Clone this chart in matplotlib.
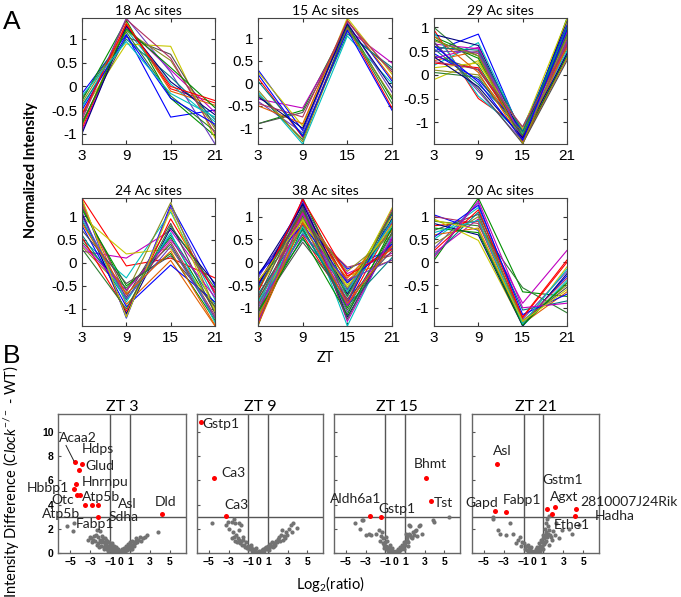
import numpy as np
import matplotlib.pyplot as plt

plt.rcParams['font.family'] = ['Lato', 'DejaVu Sans']
plt.rcParams['mathtext.fontset'] = 'custom'
plt.rcParams['mathtext.rm'] = 'Lato'
plt.rcParams['mathtext.it'] = 'Lato:italic'

# ---- panel A: clusters of acetylation sites, values at ZT 3, 9, 15, 21
zt = [3, 9, 15, 21]

c18 = [[-0.15, 1.10, -0.65, -0.50], [-0.30, 1.40, -0.25, -1.05], [-0.90, 1.30, -0.05, -0.35],
       [-0.45, 1.20, 0.05, -0.75], [-0.95, 1.25, 0.35, -0.55], [-0.55, 0.90, 0.85, -1.10],
       [-0.75, 1.05, 0.68, -0.85], [-0.65, 1.45, 0.30, -1.22], [-0.25, 1.15, -0.20, -0.95],
       [-0.85, 1.35, -0.10, -0.40], [-0.40, 1.00, 0.20, -0.70], [-1.00, 1.28, 0.10, -0.60],
       [-0.35, 1.18, 0.55, -0.90], [-0.70, 1.42, 0.60, -1.00], [-0.50, 1.08, -0.25, -0.80],
       [-0.80, 1.22, 0.40, -0.45], [-0.60, 1.32, 0.00, -0.30], [-0.20, 0.95, -0.15, -0.65]]

c15 = [[0.30, -1.05, 1.40, 0.05], [-0.90, -0.60, 1.30, -0.35], [0.12, -1.20, 1.25, -0.55],
       [-0.20, -1.35, 1.05, 0.00], [-0.35, -0.55, 1.20, 0.45], [0.25, -0.95, 1.45, 0.20],
       [-0.90, -0.65, 1.15, 0.30], [-0.40, -1.10, 1.35, -0.20], [-0.25, -1.25, 1.28, -0.45],
       [-0.50, -0.90, 1.40, 0.10], [0.05, -1.15, 1.10, 0.35], [-0.30, -1.00, 1.32, -0.10],
       [-0.15, -1.30, 1.22, -0.30], [-0.45, -0.75, 1.38, 0.25], [0.20, -1.18, 1.18, -0.60]]

c29 = [[0.50, 0.86, -1.30, 0.90], [0.80, 0.40, -1.38, 1.20], [0.95, -0.50, -1.15, 0.70],
       [0.20, 0.68, -1.25, 1.00], [0.65, 0.55, -1.45, 0.45], [-0.10, 0.30, -1.35, 1.10],
       [0.40, 0.10, -1.20, 0.80], [0.70, -0.35, -1.40, 0.60], [1.00, 0.20, -1.28, 0.95],
       [0.30, 0.50, -1.42, 0.35], [0.55, -0.20, -1.10, 0.85], [0.85, 0.62, -1.33, 1.15],
       [0.10, 0.00, -1.22, 0.55], [0.60, 0.45, -1.45, 0.75], [0.45, -0.10, -1.18, 1.05],
       [0.75, 0.35, -1.38, 0.40], [0.25, 0.15, -1.30, 0.65], [0.90, -0.45, -1.25, 0.50],
       [0.35, 0.58, -1.40, 0.90], [0.15, 0.25, -1.15, 1.18], [0.68, -0.30, -1.45, 0.30],
       [0.50, 0.48, -1.35, 0.70], [0.05, -0.05, -1.28, 0.85], [0.82, 0.05, -1.42, 0.60],
       [0.58, 0.52, -1.20, 1.00], [0.38, -0.25, -1.33, 0.45], [0.72, 0.40, -1.46, 0.80],
       [0.28, 0.12, -1.10, 0.62], [0.62, -0.15, -1.38, 0.95]]

c24 = [[1.35, -1.20, 1.25, -0.50], [1.20, -0.60, 0.55, -1.05], [1.40, -0.07, 0.10, -0.33],
       [0.50, -0.33, 1.10, -0.80], [0.25, 0.10, 0.70, -0.60], [1.00, 0.19, 0.30, -0.95],
       [0.90, -0.75, 0.85, -1.10], [1.10, -1.15, 1.20, -0.70], [0.45, -0.55, 0.40, -1.20],
       [1.30, -0.90, 0.05, -1.37], [0.60, -0.80, 0.60, -0.90], [1.05, -1.10, 0.75, -0.45],
       [0.35, -0.65, 1.30, -1.00], [1.25, -0.70, 0.45, -1.15], [0.80, -0.95, -0.05, -0.85],
       [1.15, -0.50, 0.20, -1.25], [0.55, -1.05, 0.95, -0.65], [0.95, -0.85, 0.65, -1.30],
       [0.40, -0.60, 0.50, -0.75], [1.38, -1.18, 1.15, -1.05], [0.70, -0.45, 0.15, -0.95],
       [1.00, -0.78, 0.35, -1.20], [0.30, -1.00, 0.80, -0.55], [0.85, -0.68, 0.25, -1.35]]

c38 = [[-0.26, 0.95, -0.15, 0.30], [-1.40, 1.41, -0.60, 1.10], [-0.80, 0.60, -0.95, 0.85],
       [-1.20, 1.20, -1.40, 0.60], [-0.50, 1.05, -0.25, 0.20], [-1.00, 0.80, -0.70, 1.19],
       [-0.65, 1.30, -0.45, 0.70], [-1.35, 0.90, -1.10, 0.40], [-0.40, 0.70, -0.85, 0.95],
       [-1.10, 1.15, -0.30, 0.04], [-0.90, 0.50, -0.55, 0.75], [-0.30, 1.25, -1.20, 0.50],
       [-1.25, 1.00, -0.65, 0.90], [-0.75, 0.85, -0.11, 0.15], [-0.55, 1.35, -0.90, 1.05],
       [-1.30, 0.75, -1.00, 0.65], [-0.45, 1.10, -0.40, 0.35], [-0.95, 0.65, -0.75, 0.80],
       [-1.15, 1.40, -1.30, 0.55], [-0.60, 0.95, -0.50, 1.00], [-1.05, 0.44, -0.80, 0.25],
       [-0.35, 1.18, -0.60, 0.88], [-0.85, 1.02, -1.05, 0.45], [-1.38, 0.88, -0.35, 0.70],
       [-0.70, 0.72, -0.95, 0.10], [-0.50, 1.28, -0.70, 0.95], [-1.20, 0.98, -0.20, 0.60],
       [-0.95, 1.12, -0.85, 1.15], [-0.28, 0.82, -0.45, 0.40], [-1.10, 0.55, -1.15, 0.75],
       [-0.65, 1.38, -0.30, 0.28], [-0.88, 0.78, -0.65, 0.92], [-1.32, 1.08, -0.95, 0.50],
       [-0.42, 0.92, -0.55, 0.82], [-0.78, 1.22, -1.25, 0.65], [-1.00, 0.62, -0.40, 0.05],
       [-0.58, 1.15, -0.75, 1.08], [-1.25, 0.85, -0.90, 0.35]]

c20 = [[1.04, 0.70, -1.35, -0.30], [0.04, 1.41, -0.65, -0.75], [0.80, 0.90, -1.20, 0.05],
       [0.50, 1.20, -1.40, -0.40], [0.20, 0.95, -0.90, 0.26], [0.95, 0.48, -1.38, -0.10],
       [0.70, 1.05, -1.30, -0.55], [0.30, 1.30, -1.25, -0.20], [0.90, 0.80, -0.56, -1.11],
       [0.60, 0.75, -1.35, -0.65], [0.15, 1.10, -1.05, -0.85], [0.85, 0.60, -1.40, -0.25],
       [0.40, 1.00, -1.28, -0.50], [1.00, 0.85, -1.32, -0.35], [0.55, 1.25, -1.15, -0.70],
       [0.75, 0.65, -1.38, -0.45], [0.25, 1.15, -1.22, 0.00], [0.65, 0.92, -1.35, -0.15],
       [0.10, 1.35, -1.00, -0.90], [0.92, 0.72, -1.30, -0.60]]

clusters = [c18, c15, c29, c24, c38, c20]

# ---- panel B: volcano plots (red = significant, grey = rest)
zt_titles = ['ZT 3', 'ZT 9', 'ZT 15', 'ZT 21']

red3_x = [-4.5, -3.8, -4.1, -4.4, -4.6, -4.3, -4.0, -3.5, -2.8, -2.2, -2.2, 4.2]
red3_y = [7.5, 7.4, 6.9, 5.7, 5.3, 4.8, 4.8, 4.0, 4.0, 4.0, 3.0, 3.2]
red9_x = [-5.8, -4.5, -3.3]
red9_y = [10.85, 6.2, 3.1]
red15_x = [3.1, 3.7, -2.5, -1.4]
red15_y = [6.2, 4.3, 3.1, 3.0]
red21_x = [-3.7, -3.9, -2.8, 1.4, 2.2, 1.9, 4.3, 4.2]
red21_y = [7.35, 3.5, 3.4, 3.65, 3.8, 3.2, 3.6, 3.1]

grey3_x = [-5.3, -4.6, -4.7, -3.2, -2.3, -2.0, -2.6, -2.9, -2.5, -2.2, -2.0, -1.8, -1.7, -1.5,
           -1.4, -1.3, -1.2, -1.1, -1.0, -0.9, -0.8, -0.7, -0.6, -0.5, -0.4, -0.3, -0.2, -0.1,
           0.0, 0.1, 0.2, 0.3, 0.4, 0.5, 0.6, 0.7, 0.8, 0.9, 1.0, 1.1, 1.2, 1.4, 1.6, 1.8, 2.0,
           2.3, 2.7, 3.8, 1.2, -2.3, -1.9, -1.6, -1.3, -1.0, -0.7, 0.5, 0.8, 1.0, -2.8, -3.0,
           -1.9, -1.7, -1.5, -1.3, -1.1, -0.9, -0.7, -0.5, -0.3, -0.1, 0.1, 0.3, 0.5, 0.7, 0.9,
           1.1, 1.3, 1.5, -1.6, -1.2, -0.8, -0.4, 0.0, 0.4, 0.8, 1.2, -2.4, -2.1, -1.4, -0.6,
           0.2, 0.6, 1.4, 1.7, 2.1, 2.5, -2.7, -2.2, -1.8, -1.4, -1.0, 0.65, 1.05, 1.55]
grey3_y = [2.2, 2.5, 1.8, 1.1, 1.9, 1.8, 1.4, 1.2, 1.0, 1.3, 1.1, 1.4, 0.9, 1.2,
           0.8, 1.0, 0.6, 0.9, 0.7, 0.5, 0.8, 0.4, 0.6, 0.3, 0.5, 0.2, 0.35, 0.1,
           0.05, 0.15, 0.3, 0.2, 0.45, 0.35, 0.6, 0.5, 0.75, 0.6, 0.9, 0.7, 1.0, 0.9, 1.2, 1.1, 1.35,
           1.2, 1.5, 1.7, 0.66, 0.7, 0.6, 0.5, 0.35, 0.25, 0.15, 0.15, 0.3, 0.45, 0.9, 1.3,
           0.9, 1.2, 0.7, 0.9, 0.5, 0.35, 0.55, 0.2, 0.3, 0.05, 0.08, 0.12, 0.2, 0.3, 0.45,
           0.5, 0.7, 0.8, 0.3, 0.2, 0.2, 0.1, 0.15, 0.1, 0.5, 0.3, 1.5, 0.5, 0.55, 0.45,
           0.05, 0.4, 0.6, 0.9, 1.0, 1.3, 1.1, 0.8, 1.0, 1.1, 0.45, 0.25, 0.35, 1.0]

grey9_x = [-4.7, -3.3, -3.1, -2.4, -2.3, -1.9, -2.6, -1.75, -1.9, -2.9, -2.5, -2.2, -2.6, -2.0,
           -1.7, -1.5, -1.4, -1.2, -1.0, -0.8, -0.7, -0.5, -0.3, -0.2, 0.0, 0.1, 0.3, 0.5, 0.7,
           0.8, 1.0, 1.2, 1.4, 1.6, 1.8, 2.0, 2.3, 2.1, 2.6, 2.8, 3.1, 3.45, 3.3, 3.6, 2.4, 3.95,
           1.1, -1.8, -2.3, 0.6, -0.6, 1.5, 2.5, -2.1, -1.9, -1.6, -1.3, -1.1, -0.9, -0.4, -0.1,
           0.2, 0.4, 0.9, 1.3, 1.7, 1.9, 2.2, 2.7, -2.4, -1.5, -0.7, 0.5, 1.1, 1.6, 2.9]
grey9_y = [2.45, 2.3, 2.6, 2.8, 2.5, 2.45, 2.6, 2.3, 1.9, 2.0, 1.7, 1.5, 1.2, 1.2,
           1.0, 1.3, 0.66, 0.9, 0.6, 0.45, 0.7, 0.3, 0.15, 0.4, 0.05, 0.2, 0.1, 0.3, 0.45,
           0.5, 0.6, 0.75, 0.9, 0.8, 1.0, 1.15, 1.5, 1.3, 1.4, 1.7, 1.95, 1.76, 2.3, 2.45, 1.9, 2.1,
           0.4, 0.8, 1.0, 0.15, 0.15, 0.5, 1.1, 0.9, 1.1, 0.7, 0.5, 0.4, 0.3, 0.2, 0.1,
           0.08, 0.25, 0.35, 0.55, 0.65, 0.9, 1.0, 1.25, 1.3, 1.05, 0.5, 0.2, 0.25, 0.55, 1.5]

grey15_x = [-4.1, -3.3, -3.4, -3.6, -2.6, -2.4, -2.9, -1.9, -1.6, -1.3, -1.2, -1.0, -0.9, -0.8,
            -0.6, -0.5, -0.4, -0.3, -0.2, 0.0, 0.1, 0.2, 0.3, 0.4, 0.5, 0.6, 0.7, 0.8, 0.9, 1.0,
            1.1, 1.2, 1.3, 1.4, 1.5, 1.55, 1.6, 1.8, 2.0, 2.1, 2.4, 2.5, 2.7, 2.2, 3.9, 4.0, 5.5,
            -0.7, -1.1, 0.9, -1.5, -1.4, -1.2, -1.0, -0.8, -0.6, -0.4, -0.2, 0.1, 0.3, 0.5,
            0.7, 1.0, 1.2, 1.4, 1.7, 1.9, -1.1, -0.9, 0.6, 1.3]
grey15_y = [2.45, 2.7, 2.7, 2.0, 1.6, 1.5, 1.5, 1.57, 1.9, 1.75, 1.2, 0.9, 0.6, 1.0,
            0.5, 0.7, 0.3, 0.45, 0.15, 0.05, 0.2, 0.1, 0.35, 0.2, 0.5, 0.3, 0.7, 0.5, 0.9, 0.65,
            1.6, 1.1, 0.9, 2.3, 2.2, 1.5, 1.3, 1.7, 1.8, 1.9, 2.2, 2.3, 1.6, 1.4, 2.7, 2.55, 2.95,
            0.2, 0.4, 0.3, 1.0, 1.4, 0.8, 0.55, 0.35, 0.25, 0.1, 0.05, 0.1, 0.15, 0.25,
            0.4, 0.9, 1.3, 1.6, 1.2, 1.5, 0.7, 1.3, 0.45, 0.6]

grey21_x = [-4.1, -4.1, -3.6, -2.4, -3.35, -2.75, -2.1, -1.4, -1.6, -1.2, -1.0, -0.8, -0.6, -0.5,
            -0.4, -0.3, -0.2, 0.0, 0.1, 0.2, 0.3, 0.4, 0.5, 0.6, 0.7, 0.8, 0.9, 1.0, 1.1, 1.2,
            1.25, 1.3, 1.4, 1.5, 1.6, 1.6, 1.9, 2.3, 2.6, 2.9, 3.6, 3.9, 4.6, 1.0, 0.7, -0.7,
            1.3, 1.7, 2.0, -0.9, -0.6, -0.35, -0.15, 0.05, 0.25, 0.45, 0.65, 0.85, 1.05, 1.15,
            1.35, 1.45, 1.55, 1.8, 2.2, -1.8, -1.3, 0.95, 1.2]
grey21_y = [2.95, 2.8, 1.9, 2.45, 1.6, 1.5, 1.6, 1.35, 1.1, 0.9, 0.8, 0.55, 0.7, 0.4,
            0.25, 0.5, 0.15, 0.05, 0.15, 0.3, 0.1, 0.5, 0.3, 0.8, 0.6, 1.1, 0.9, 1.5, 1.2, 2.0,
            2.5, 1.7, 2.8, 2.2, 3.1, 0.66, 1.07, 2.45, 1.2, 1.9, 2.0, 1.6, 2.3, 0.3, 0.2, 0.25,
            1.0, 1.5, 1.8, 0.35, 0.2, 0.1, 0.05, 0.08, 0.12, 0.2, 0.4, 0.55, 0.75, 0.95,
            1.3, 1.6, 1.9, 1.3, 1.5, 0.8, 0.6, 1.2, 1.45]

labels3 = [('Acaa2', -4.2, 9.5), ('Hdps', -2.2, 8.6), ('Glud', -2.0, 7.2), ('Hnrnpu', -1.5, 5.9),
           ('Hbbp1', -7.2, 5.35), ('Otc', -5.7, 4.4), ('Atp5b', -1.9, 4.6), ('Asl', 0.7, 4.05),
           ('Dld', 4.6, 4.2), ('Atp5b', -5.9, 3.2), ('Sdha', 0.4, 3.0), ('Fabp1', -2.5, 2.4)]
labels9 = [('Gstp1', -3.75, 10.7), ('Ca3', -2.5, 6.6), ('Ca3', -2.2, 4.0)]
labels15 = [('Bhmt', 3.6, 7.4), ('Tst', 4.9, 4.15), ('Aldh6a1', -4.0, 4.5), ('Gstp1', 0.2, 3.6)]
labels21 = [('Asl', -3.1, 8.4), ('Gapd', -5.2, 4.1), ('Fabp1', -1.15, 4.4), ('Gstm1', 2.9, 6.0),
            ('Agxt', 3.1, 4.65), ('2810007J24Rik', 9.6, 4.2), ('Hadha', 8.15, 3.05),
            ('Ethe1', 3.85, 2.3)]

cols = ['#0000ff', '#009000', '#ff0000', '#00c0c0', '#c000c0', '#c8c800', '#505050',
        '#6a3dc0', '#2e7d32', '#e06000', '#008080', '#000080', '#8c8c20', '#b03060']

fig = plt.figure(figsize=(6.81, 5.97), dpi=100)


def px_axes(x0, y0, x1, y1):
    return fig.add_axes([x0 / 681, 1 - y1 / 597, (x1 - x0) / 681, (y1 - y0) / 597])


# Fig A: six cluster panels
a_boxes = [(82, 18, 215, 144), (258, 18, 392, 144), (434, 18, 567, 144),
           (82, 198, 215, 326), (258, 198, 392, 326), (434, 198, 567, 326)]
for box, cl in zip(a_boxes, clusters):
    ax = px_axes(*box)
    for i, row in enumerate(cl):
        ax.plot(zt, row, color=cols[i % len(cols)], lw=0.8)
    vals = np.array(cl)
    ax.set_xlim(3, 21)
    ax.set_ylim(vals.min(), vals.max())
    ax.set_xticks(zt)
    ax.set_yticks([-1, -0.5, 0, 0.5, 1])
    ax.set_yticklabels(['-1', '-0.5', '0', '0.5', '1'])
    ax.tick_params(direction='in', top=True, right=True, length=3, labelsize=11,
                   color='#333333')
    for lab in ax.get_xticklabels() + ax.get_yticklabels():
        lab.set_family('Liberation Sans')
    for s in ax.spines.values():
        s.set_color('#444444')
    ax.set_title('%d Ac sites' % len(cl), fontsize=10, pad=2)

fig.text(31 / 681, 1 - 170 / 597, 'Normalized Intensity', rotation=90, fontsize=10.5,
         fontweight='bold', ha='center', va='center')
fig.text(325 / 681, 1 - 358 / 597, 'ZT', fontsize=10.5, ha='center', va='center')
fig.text(3 / 681, 1 - 29 / 597, 'A', fontsize=19, family='Liberation Sans')
fig.text(3 / 681, 1 - 363 / 597, 'B', fontsize=19, family='Liberation Sans')

# Fig B: volcano plots
b_boxes = [(58, 414, 186, 553), (197, 414, 323, 553), (334, 414, 460, 553), (472, 414, 599, 553)]
reds = [(red3_x, red3_y), (red9_x, red9_y), (red15_x, red15_y), (red21_x, red21_y)]
greys = [(grey3_x, grey3_y), (grey9_x, grey9_y), (grey15_x, grey15_y), (grey21_x, grey21_y)]
labs = [labels3, labels9, labels15, labels21]
for k, box in enumerate(b_boxes):
    ax = px_axes(*box)
    ax.scatter(greys[k][0], greys[k][1], s=9, color='#737373', linewidths=0, zorder=2)
    ax.scatter(reds[k][0], reds[k][1], s=13, color='#ff0000', linewidths=0, zorder=3)
    ax.axhline(3, color='#555555', lw=1, zorder=1)
    ax.axvline(-1, color='#555555', lw=1, zorder=1)
    ax.axvline(1, color='#555555', lw=1, zorder=1)
    for txt, x, y in labs[k]:
        ax.text(x, y, txt, fontsize=10, color='#222222', ha='center', va='center', zorder=4)
    ax.set_xlim(-6.2, 6.6)
    ax.set_ylim(0, 11.5)
    ax.set_xticks([-5, -3, -1, 0, 1, 3, 5])
    ax.set_yticks([0, 2, 4, 6, 8, 10])
    ax.tick_params(direction='in', length=2, labelsize=7.5, color='#555555', pad=3)
    if k > 0:
        ax.set_yticklabels([])
    for lab in ax.get_xticklabels() + ax.get_yticklabels():
        lab.set_family('Liberation Sans')
        lab.set_fontweight('bold')
    for s in ax.spines.values():
        s.set_color('#666666')
        s.set_linewidth(1)
    ax.set_title(zt_titles[k], fontsize=11.5, pad=1)

# Acaa2 pointer line
fig.axes[6].plot([-5.4, -4.6], [8.9, 7.6], color='#222222', lw=0.7, zorder=4)

fig.text(12 / 681, 1 - 482 / 597, r'Intensity Difference ($\it{Clock}^{-/-}$ - WT)',
         rotation=90, fontsize=10.5, ha='center', va='center')
fig.text(330 / 681, 1 - 584 / 597, r'Log$_2$(ratio)', fontsize=10.5, ha='center', va='center')

plt.savefig('out.png', dpi=100)
